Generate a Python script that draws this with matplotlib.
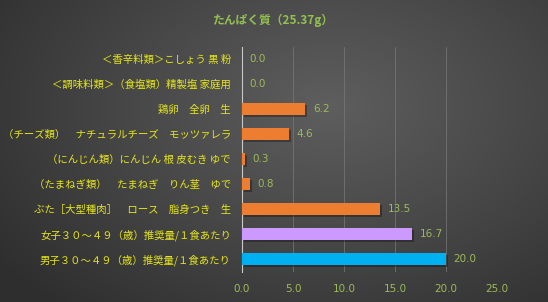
import numpy as np
import matplotlib
matplotlib.use("Agg")
import matplotlib.pyplot as plt
from matplotlib.colors import LinearSegmentedColormap

plt.rcParams['font.family'] = ['Noto Sans CJK JP', 'DejaVu Sans']

title = "たんぱく質（25.37g）"
categories = [
    "＜香辛料類＞こしょう 黒 粉",
    "＜調味料類＞（食塩類）精製塩 家庭用",
    "鶏卵　全卵　生",
    "（チーズ類）　ナチュラルチーズ　モッツァレラ",
    "（にんじん類）にんじん 根 皮むき ゆで",
    "（たまねぎ類）　たまねぎ　りん茎　ゆで",
    "ぶた［大型種肉］　ロース　脂身つき　生",
    "女子３０～４９（歳）推奨量/１食あたり",
    "男子３０～４９（歳）推奨量/１食あたり",
]
values = [0.0, 0.0, 6.2, 4.6, 0.3, 0.8, 13.5, 16.7, 20.0]
colors = ["#ED7D31"] * 7 + ["#CC99FF", "#00B0F0"]
xticks = [0.0, 5.0, 10.0, 15.0, 20.0, 25.0]

W, H = 548, 302
fig = plt.figure(figsize=(W / 100, H / 100), dpi=100)

# background radial gradient
bg = fig.add_axes([0, 0, 1, 1], zorder=-10)
yy, xx = np.mgrid[0:H, 0:W]
cx, cy = W * 0.6, H * 0.35
r = np.sqrt(((xx - cx) / (W * 0.75)) ** 2 + ((yy - cy) / (H * 0.9)) ** 2)
r = np.clip(r, 0, 1)
cmap = LinearSegmentedColormap.from_list("bg", ["#5e5e5e", "#474747", "#2e2e2e"])
bg.imshow(r, cmap=cmap, aspect="auto", extent=[0, 1, 0, 1], vmin=0, vmax=1)
bg.axis("off")

ax = fig.add_axes([242 / W, 1 - 271.5 / H, (497 - 242) / W, (271.5 - 46.5) / H])
ax.set_facecolor("none")
y = np.arange(len(categories))[::-1]
# shadows
ax.barh(y - 0.07, values, height=0.5, left=0.2, color="black", alpha=0.3, zorder=2)
ax.barh(y, values, height=0.5, color=colors, zorder=3)
for yi, v in zip(y, values):
    ax.text(v + 0.75, yi, f"{v:.1f}", va="center", ha="left", fontsize=7.5,
            color="#9BBB59", family=["DejaVu Sans"])

ax.set_xlim(0, 25)
ax.set_ylim(-0.5, len(categories) - 0.5)
ax.set_yticks(y)
ax.set_yticklabels(categories, fontsize=7.5, color="#E6E619")
ax.set_xticks(xticks)
ax.set_xticklabels([f"{t:.1f}" for t in xticks], fontsize=7.5, color="#9BBB59",
                   family=["DejaVu Sans"])
ax.tick_params(axis="y", length=0, pad=8)
ax.tick_params(axis="x", length=0, pad=9)
for s in ["top", "right", "bottom"]:
    ax.spines[s].set_visible(False)
ax.spines["left"].set_color("#c8c8c8")
ax.spines["left"].set_linewidth(0.8)
ax.grid(axis="x", color="#7a7a7a", linewidth=0.5, zorder=0)
ax.set_axisbelow(True)

fig.text(0.5, 1 - 20 / H, title, ha="center", va="center", fontsize=8.5,
         fontweight="bold", color="#92C050")

fig.savefig("out.png", dpi=100)
